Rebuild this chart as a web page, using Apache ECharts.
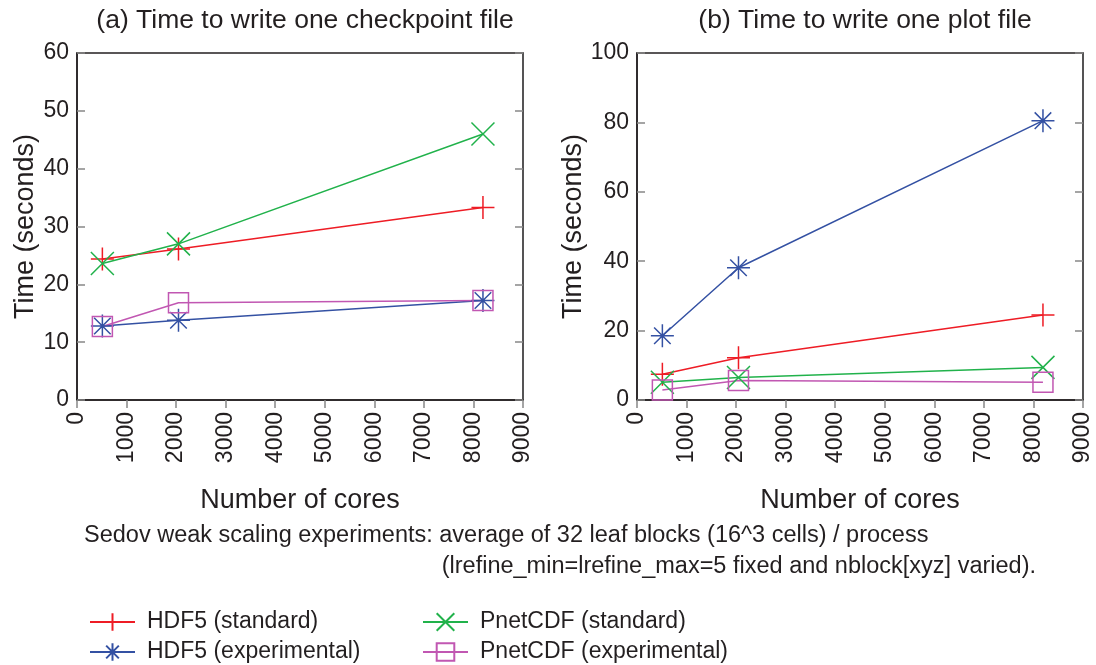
<!DOCTYPE html>
<html>
<head>
<meta charset="utf-8">
<script src="https://cdn.jsdelivr.net/npm/echarts@6/dist/echarts.min.js"></script>
<style>html,body{margin:0;padding:0;background:#fff;}#c{width:1096px;height:665px;}</style>
</head>
<body>
<div id="c"></div>
<script>
const cores = [512, 2048, 8192];
const xTicks = [0, 1000, 2000, 3000, 4000, 5000, 6000, 7000, 8000, 9000];
const seriesNames = ['HDF5 (standard)', 'HDF5 (experimental)', 'PnetCDF (standard)', 'PnetCDF (experimental)'];
// (a) checkpoint file
const hdf5StdCkpt = [24.4, 26.1, 33.3];
const hdf5ExpCkpt = [12.8, 13.8, 17.2];
const pnetStdCkpt = [23.6, 27.0, 46.0];
const pnetExpCkpt = [12.7, 16.8, 17.2];
// (b) plot file
const hdf5StdPlot = [7.4, 12.2, 24.5];
const hdf5ExpPlot = [18.5, 38.1, 80.5];
const pnetStdPlot = [5.1, 6.5, 9.4];
const pnetExpPlot = [2.9, 5.6, 5.1];
const titles = ['(a) Time to write one checkpoint file', '(b) Time to write one plot file'];
const caption1 = 'Sedov weak scaling experiments: average of 32 leaf blocks (16^3 cells) / process';
const caption2 = '(lrefine_min=lrefine_max=5 fixed and nblock[xyz] varied).';

const FONT = "'Liberation Sans', Arial, Helvetica, sans-serif";
const TXT = '#231f20';
const colors = ['#ee1c25', '#3451a3', '#21b24b', '#c157b2'];
const symbols = [
  'path://M-1,0L1,0M0,-1L0,1',
  'path://M-1,0L1,0M0,-1L0,1M-0.72,-0.72L0.72,0.72M-0.72,0.72L0.72,-0.72',
  'path://M-1,-1L1,1M-1,1L1,-1',
  'path://M-1,-1L1,-1L1,1L-1,1Z'
];
const sizes = [23, 23, 23, 20];

const grids = [
  {left: 77, top: 53, width: 446, height: 347, show: true, borderColor: '#231f20', borderWidth: 1.5, containLabel: false},
  {left: 637, top: 53, width: 446, height: 347, show: true, borderColor: '#231f20', borderWidth: 1.5, containLabel: false}
];

function xAx(g) {
  return {
    type: 'value', gridIndex: g, min: 0, max: 9000, interval: 1000,
    name: 'Number of cores', nameLocation: 'middle', nameGap: 87,
    nameTextStyle: {fontFamily: FONT, fontSize: 27, color: TXT},
    axisLine: {show: true, lineStyle: {color: TXT, width: 1.5}},
    axisTick: {show: true, inside: false, length: 8, lineStyle: {color: '#888', width: 1.5}},
    axisLabel: {rotate: 90, fontFamily: FONT, fontSize: 23, color: TXT, margin: 12,
      formatter: v => xTicks.includes(v) ? String(v) : ''},
    splitLine: {show: false}
  };
}
function yAx(g, max, interval, right) {
  return {
    type: 'value', gridIndex: g, min: 0, max: max, interval: interval,
    position: right ? 'right' : 'left',
    name: right ? '' : 'Time (seconds)', nameLocation: 'middle', nameGap: 37,
    nameTextStyle: {fontFamily: FONT, fontSize: 27, color: TXT},
    axisLine: {show: true, lineStyle: {color: right ? '#555' : TXT, width: 1.5}},
    axisTick: {show: true, inside: true, length: 8, lineStyle: {color: '#888', width: 1.5}},
    axisLabel: {show: !right, fontFamily: FONT, fontSize: 23, color: TXT, margin: 8},
    splitLine: {show: false}
  };
}

const dataSets = [
  [hdf5StdCkpt, hdf5ExpCkpt, pnetStdCkpt, pnetExpCkpt],
  [hdf5StdPlot, hdf5ExpPlot, pnetStdPlot, pnetExpPlot]
];
const order = [0, 2, 1, 3];
const series = [];
for (let g = 0; g < 2; g++) {
  for (const i of order) {
    series.push({
      name: seriesNames[i], type: 'line',
      xAxisIndex: g, yAxisIndex: g * 2,
      data: cores.map((c, k) => [c, dataSets[g][i][k]]),
      symbol: symbols[i], symbolSize: sizes[i], showAllSymbol: true,
      lineStyle: {color: colors[i], width: 1.5},
      itemStyle: {color: 'rgba(0,0,0,0)', borderColor: colors[i], borderWidth: 1.5},
      emphasis: {disabled: true}, animation: false, z: 3
    });
  }
}

const legendPos = [[89, 609], [89, 639], [422, 609], [422, 639]];
const legends = seriesNames.map((n, i) => ({
  left: legendPos[i][0], top: legendPos[i][1], data: [n],
  itemWidth: 45, itemHeight: 22, padding: 0,
  textStyle: {fontFamily: FONT, fontSize: 23, lineHeight: 26, color: TXT, padding: [0, 0, 0, 7]},
  selectedMode: false
}));

const chart = echarts.init(document.getElementById('c'), null, {renderer: 'canvas'});
chart.setOption({
  backgroundColor: '#fff',
  animation: false,
  title: [
    {text: titles[0], left: 300, top: 2, textAlign: 'center', textStyle: {fontFamily: FONT, fontSize: 26.5, fontWeight: 'normal', color: TXT}},
    {text: titles[1], left: 860, top: 2, textAlign: 'center', textStyle: {fontFamily: FONT, fontSize: 26.5, fontWeight: 'normal', color: TXT}}
  ],
  grid: grids,
  xAxis: [xAx(0), xAx(1)],
  yAxis: [yAx(0, 60, 10, false), yAx(0, 60, 10, true), yAx(1, 100, 20, false), yAx(1, 100, 20, true)],
  legend: legends,
  graphic: [
    {type: 'text', left: 84, top: 524, style: {text: caption1, font: "23.5px " + FONT, fill: TXT}},
    {type: 'text', right: 60, top: 555, style: {text: caption2, font: "23.5px " + FONT, fill: TXT}}
  ],
  series: series
});
</script>
</body>
</html>
